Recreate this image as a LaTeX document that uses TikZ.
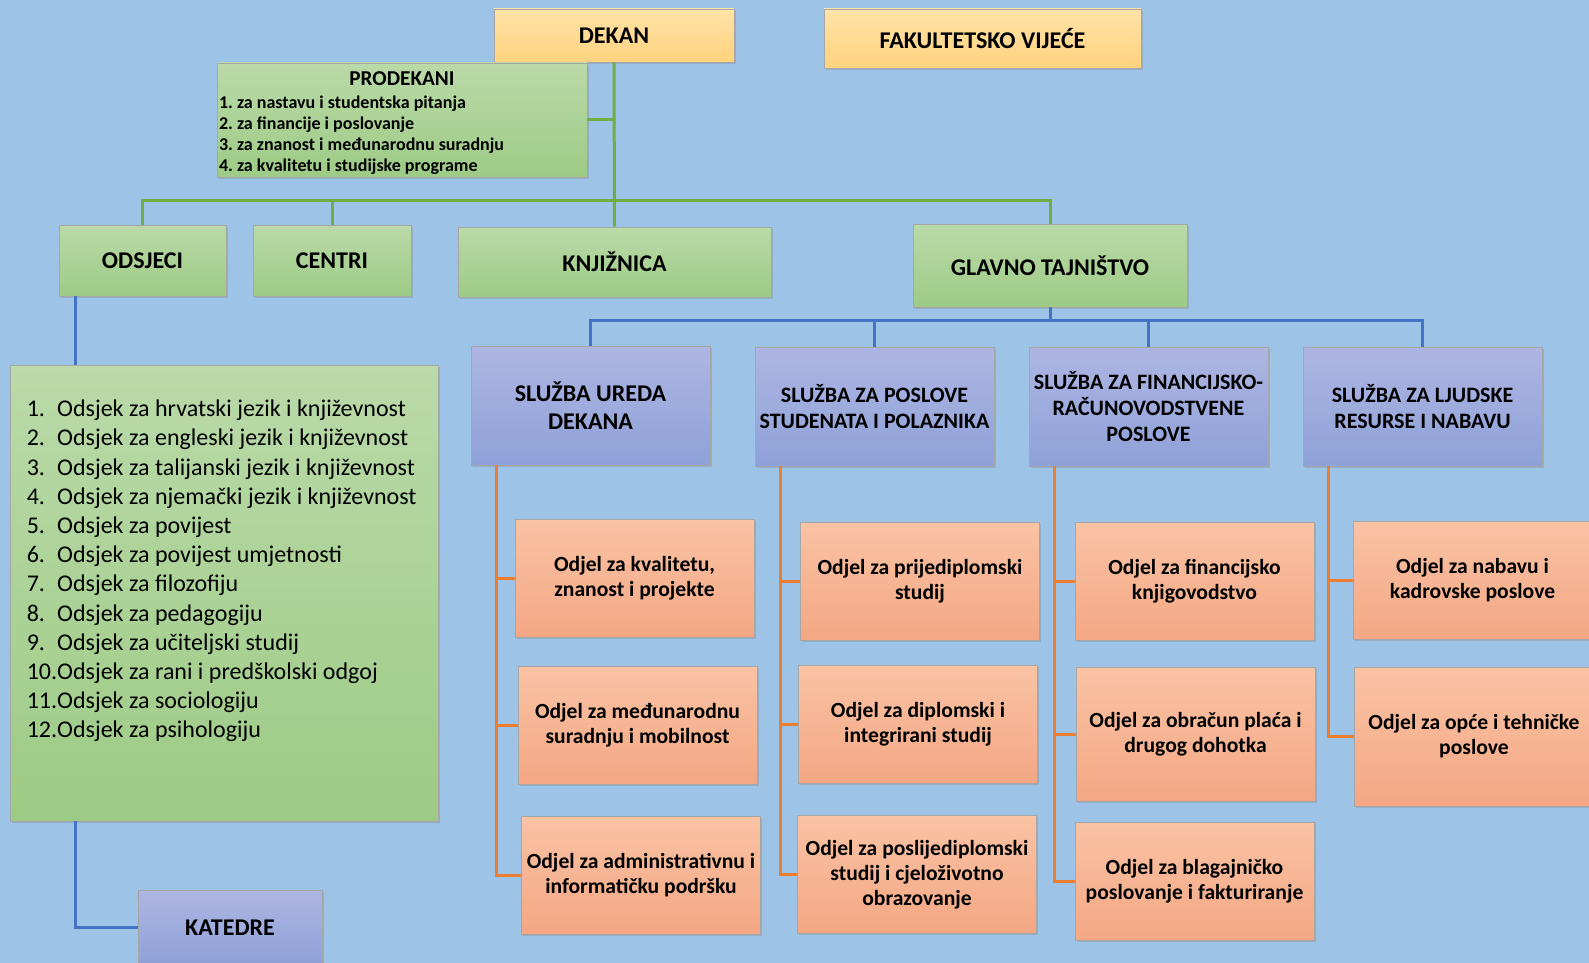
\documentclass[tikz,border=0pt]{standalone}
\usepackage{fontspec}
\setmainfont{Carlito}
\usetikzlibrary{shadows}
\definecolor{bg}{HTML}{9DC3E6}
\definecolor{yellowtop}{HTML}{FFE3A8}
\definecolor{yellowbot}{HTML}{FFD27E}
\definecolor{greentop}{HTML}{BADAA9}
\definecolor{greenbot}{HTML}{9DCB85}
\definecolor{bluetop}{HTML}{AEB6E3}
\definecolor{bluebot}{HTML}{8EA1D8}
\definecolor{orangetop}{HTML}{F9C3A4}
\definecolor{orangebot}{HTML}{F4A784}
\definecolor{greenln}{HTML}{70AD47}
\definecolor{blueln}{HTML}{4472C4}
\definecolor{orangeln}{HTML}{ED7D31}
\frenchspacing

\begin{document}
\begin{tikzpicture}[x=0.5pt, y=-0.5pt,
	box/.style={rectangle, draw=black!35, line width=0.4pt, inner sep=1pt, align=center,
		font=\bfseries\fontsize{12}{14}\selectfont,
		drop shadow={shadow xshift=0.8pt, shadow yshift=-0.8pt, opacity=0.3}},
	yellowbox/.style={box, top color=yellowtop, bottom color=yellowbot},
	greenbox/.style={box, top color=greentop, bottom color=greenbot},
	bluebox/.style={box, top color=bluetop, bottom color=bluebot},
	sluzba/.style={bluebox, minimum width=119.5pt, minimum height=59.5pt, font=\bfseries\fontsize{11}{12.8}\selectfont},
	odjel/.style={box, top color=orangetop, bottom color=orangebot, minimum width=119.5pt, minimum height=59pt, font=\bfseries\fontsize{10.8}{12.6}\selectfont},
	greenline/.style={draw=greenln, line width=1.5pt},
	blueline/.style={draw=blueln, line width=1.5pt},
	orangeline/.style={draw=orangeln, line width=1.5pt}]
	\fill[bg] (0,0) rectangle (1589,963);
	\clip (0,0) rectangle (1589,963);

	\node[yellowbox, minimum width=120pt, minimum height=26.5pt] (dekan) at (614,35.5) {DEKAN};
	\node[yellowbox, minimum width=158.5pt, minimum height=29.5pt] (vijece) at (982.5,38.5) {FAKULTETSKO VIJEĆE};
	\node[greenbox, minimum width=185pt, minimum height=57pt] (prodekani) at (402,120) {\begin{minipage}[c][55pt][t]{183pt}\vspace*{3.5pt}\centering\fontsize{10.6}{12}\selectfont PRODEKANI\par\vspace{0.6pt}
		\raggedright\fontsize{9}{10.6}\selectfont 1. za nastavu i studentska pitanja\\2. za financije i poslovanje\\3. za znanost i međunarodnu suradnju\\4. za kvalitetu i studijske programe\end{minipage}};

	\node[greenbox, minimum width=83.5pt, minimum height=35.5pt] (odsjeci) at (142.5,260.5) {ODSJECI};
	\node[greenbox, minimum width=79pt, minimum height=35.5pt] (centri) at (332,260.5) {CENTRI};
	\node[greenbox, minimum width=156.5pt, minimum height=35pt] (knjiznica) at (614.5,262) {KNJIŽNICA};
	\node[greenbox, minimum width=137pt, minimum height=41.5pt] (glavno) at (1050,265.5) {GLAVNO TAJNIŠTVO};

	\node[greenbox, inner sep=0pt, font=\fontsize{12}{14.6}\selectfont] (odsjecilist) at (224,593) {\begin{minipage}[c][228pt][t]{214pt}
		\vspace*{15.6pt}\noindent\hspace*{8.4pt}\begin{tabular}[t]{@{}l@{}l@{}}
		1. & Odsjek za hrvatski jezik i književnost\\
		2. & Odsjek za engleski jezik i književnost\\
		3. & Odsjek za talijanski jezik i književnost\\
		4. & Odsjek za njemački jezik i književnost\\
		5. & Odsjek za povijest\\
		6. & Odsjek za povijest umjetnosti\\
		7. & Odsjek za filozofiju\\
		8. & Odsjek za pedagogiju\\
		9. & Odsjek za učiteljski studij\\
		10. & Odsjek za rani i predškolski odgoj\\
		11. & Odsjek za sociologiju\\
		12. & Odsjek za psihologiju
		\end{tabular}\end{minipage}};
	\node[bluebox, minimum width=92pt, minimum height=37.5pt] (katedre) at (230,927.5) {KATEDRE};

	\node[sluzba, font=\bfseries\fontsize{12}{13.7}\selectfont] (sud) at (590.5,405.5) {SLUŽBA UREDA\\DEKANA};
	\node[sluzba] (spsp) at (874.5,406.5) {SLUŽBA ZA POSLOVE\\STUDENATA I POLAZNIKA};
	\node[sluzba] (sfrp) at (1148.5,406.5) {SLUŽBA ZA FINANCIJSKO-\\RAČUNOVODSTVENE\\POSLOVE};
	\node[sluzba] (sljrn) at (1422.5,406.5) {SLUŽBA ZA LJUDSKE\\RESURSE I NABAVU};

	\node[odjel] (o11) at (634.5,578) {Odjel za kvalitetu,\\znanost i projekte};
	\node[odjel] (o12) at (637.5,725) {Odjel za međunarodnu\\suradnju i mobilnost};
	\node[odjel] (o13) at (641,875) {Odjel za administrativnu i\\informatičku podršku};
	\node[odjel] (o21) at (920,581) {Odjel za prijediplomski\\studij};
	\node[odjel] (o22) at (918,724) {Odjel za diplomski i\\integrirani studij};
	\node[odjel] (o23) at (917,874.5) {Odjel za poslijediplomski\\studij i cjeloživotno\\obrazovanje};
	\node[odjel] (o31) at (1194.5,581.5) {Odjel za financijsko\\knjigovodstvo};
	\node[odjel, minimum height=67pt] (o32) at (1195.5,734) {Odjel za obračun plaća i\\drugog dohotka};
	\node[odjel] (o33) at (1194.5,881.5) {Odjel za blagajničko\\poslovanje i fakturiranje};
	\node[odjel] (o41) at (1472.5,580.5) {Odjel za nabavu i\\kadrovske poslove};
	\node[odjel, minimum height=69.5pt] (o42) at (1474,736.5) {Odjel za opće i tehničke\\poslove};

	\coordinate (gbus) at (614,200);
	\coordinate (bbus) at (1050,320);
	\draw[greenline] (dekan.south) -- (knjiznica.north);
	\draw[greenline] (prodekani.east) -- (prodekani.east -| dekan.south);
	\draw[greenline] (odsjeci.north) |- (gbus) -| (glavno.north);
	\draw[greenline] (centri.north) -- (centri.north |- gbus);
	\draw[blueline] (glavno.south) -- (bbus);
	\draw[blueline] (sud.north) |- (bbus) -| (sljrn.north);
	\draw[blueline] (spsp.north) -- (spsp.north |- bbus);
	\draw[blueline] (sfrp.north) -- (sfrp.north |- bbus);
	\draw[blueline] ([xshift=8.5pt]odsjeci.south west) coordinate (kt) -- (kt |- odsjecilist.north);
	\draw[blueline] (kt |- odsjecilist.south) |- (katedre.west);
	\foreach \s/\a/\b/\c in {sud/o11/o12/o13, spsp/o21/o22/o23, sfrp/o31/o32/o33} {
		\draw[orangeline] ([xshift=13pt]\s.south west) |- (\a.west);
		\draw[orangeline] ([xshift=13pt]\s.south west) |- (\b.west);
		\draw[orangeline] ([xshift=13pt]\s.south west) |- (\c.west);
	}
	\draw[orangeline] ([xshift=13pt]sljrn.south west) |- (o41.west);
	\draw[orangeline] ([xshift=13pt]sljrn.south west) |- (o42.west);
\end{tikzpicture}
\end{document}
